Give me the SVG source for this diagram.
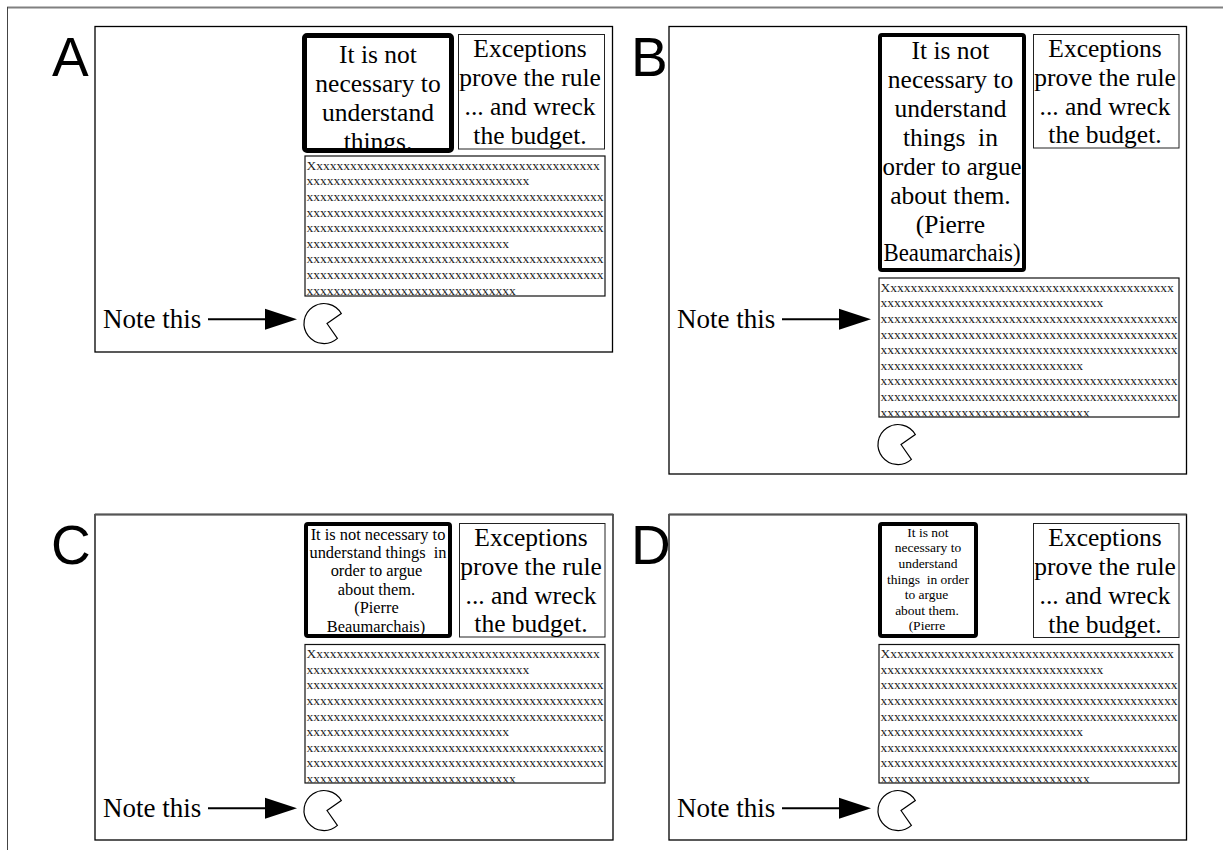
<svg xmlns="http://www.w3.org/2000/svg" width="1223" height="850" viewBox="0 0 1223 850">
<style>
.panel{fill:#fff;stroke:#000;stroke-width:1.3}
.ptop{stroke:#555;stroke-width:2.2}
.lbl{font-family:"Liberation Sans",Arial,sans-serif;font-size:55px;fill:#000}
.serif{font-family:"Liberation Serif","Times New Roman",serif;fill:#000}
.big{font-size:25.5px;text-anchor:middle}
.mid{font-size:16.4px;text-anchor:middle}
.small{font-size:13.5px;text-anchor:middle}
.thick{fill:none;stroke:#000;stroke-width:4}
.thick5{fill:none;stroke:#000;stroke-width:5}
.exc{fill:#fff;stroke:#222;stroke-width:1}
.tbox{fill:#fff;stroke:#111;stroke-width:1.2}
.xs{font-family:"Liberation Serif","Times New Roman",serif;font-size:13.5px;fill:#222}
.note{font-family:"Liberation Serif","Times New Roman",serif;font-size:27px;fill:#000}
.pac{fill:#fff;stroke:#000;stroke-width:1.2}
.arr{stroke:#000;stroke-width:2;fill:none;marker-end:url(#ah)}
</style>
<defs>
<marker id="ah" markerUnits="userSpaceOnUse" markerWidth="32" markerHeight="21" refX="0" refY="10.5" orient="auto" overflow="visible">
<path d="M0 0 L32 10.5 L0 21 Z" fill="#000"/>
</marker>
<clipPath id="cqA"><rect x="307" y="38" width="142" height="110"/></clipPath>
<clipPath id="cqB"><rect x="882" y="37" width="140" height="231"/></clipPath>
<clipPath id="cqC"><rect x="308" y="526" width="140" height="108"/></clipPath>
<clipPath id="cqD"><rect x="882" y="526" width="92" height="108"/></clipPath>
<clipPath id="ctA"><rect x="305.6" y="156.6" width="298.8" height="138.8"/></clipPath>
<clipPath id="ctB"><rect x="879.6" y="278.6" width="298.8" height="137.8"/></clipPath>
<clipPath id="ctC"><rect x="305.6" y="645.1" width="298.8" height="137.3"/></clipPath>
<clipPath id="ctD"><rect x="879.6" y="645.1" width="298.8" height="137.3"/></clipPath>
</defs>

<g id="page-frame">
<line x1="7" y1="7.5" x2="1223" y2="7.5" stroke="#808080" stroke-width="2"/>
<line x1="7.5" y1="7" x2="7.5" y2="850" stroke="#444" stroke-width="1"/>
</g>

<!-- Panel A -->
<g id="panelA">
<rect class="panel" x="95" y="26.5" width="517.5" height="325.5"/>
<text class="lbl" x="52" y="75.5">A</text>
</g>
<g id="quoteA">
<g clip-path="url(#cqA)" class="serif big">
<text x="378" y="62.5">It is not</text>
<text x="378" y="91.5">necessary to</text>
<text x="378" y="120.5">understand</text>
<text x="378" y="150">things.</text>
</g>
<rect class="thick5" x="304.5" y="35.5" width="147" height="115" rx="2.5"/>
</g>
<g id="exceptionsA">
<rect class="exc" x="458.5" y="34.5" width="146" height="114.5"/>
<g class="serif big">
<text x="530" y="56.5">Exceptions</text>
<text x="530" y="85.5">prove the rule</text>
<text x="530" y="114.5">... and wreck</text>
<text x="530" y="143.5">the budget.</text>
</g>
</g>
<g id="textboxA">
<rect class="tbox" x="305" y="156" width="300" height="140"/>
<g clip-path="url(#ctA)" class="xs">
<text x="306.5" y="169.7">Xxxxxxxxxxxxxxxxxxxxxxxxxxxxxxxxxxxxxxxxxxx</text>
<text x="306.5" y="185.3">xxxxxxxxxxxxxxxxxxxxxxxxxxxxxxxxx</text>
<text x="306.5" y="200.9">xxxxxxxxxxxxxxxxxxxxxxxxxxxxxxxxxxxxxxxxxxxx</text>
<text x="306.5" y="216.5">xxxxxxxxxxxxxxxxxxxxxxxxxxxxxxxxxxxxxxxxxxxx</text>
<text x="306.5" y="232.1">xxxxxxxxxxxxxxxxxxxxxxxxxxxxxxxxxxxxxxxxxxxx</text>
<text x="306.5" y="247.7">xxxxxxxxxxxxxxxxxxxxxxxxxxxxxx</text>
<text x="306.5" y="263.3">xxxxxxxxxxxxxxxxxxxxxxxxxxxxxxxxxxxxxxxxxxxx</text>
<text x="306.5" y="278.9">xxxxxxxxxxxxxxxxxxxxxxxxxxxxxxxxxxxxxxxxxxxx</text>
<text x="306.5" y="294.8">xxxxxxxxxxxxxxxxxxxxxxxxxxxxxxx</text>
</g>
</g>
<g id="noteA"><text class="note" x="103" y="328">Note this</text></g>
<g id="pacmanA"><path class="pac" d="M327 323.5 L341.3 313.5 A20 20 0 1 0 337.4 338.4 Z"/></g>

<!-- Panel B -->
<g id="panelB">
<rect class="panel" x="669" y="26.5" width="517.5" height="447.5"/>
<text class="lbl" x="631" y="75.5">B</text>
</g>
<g id="quoteB">
<g clip-path="url(#cqB)" class="serif big">
<text x="950.5" y="59">It is not</text>
<text x="950.5" y="88">necessary to</text>
<text x="950.5" y="117">understand</text>
<text x="950.5" y="146" xml:space="preserve">things  in</text>
<text x="952" y="175" textLength="139" lengthAdjust="spacingAndGlyphs">order to argue</text>
<text x="950.5" y="204">about them.</text>
<text x="950.5" y="233">(Pierre</text>
<text x="952" y="261" textLength="137" lengthAdjust="spacingAndGlyphs">Beaumarchais)</text>
</g>
<rect class="thick" x="880" y="35" width="144" height="235" rx="2"/>
</g>
<g id="exceptionsB">
<rect class="exc" x="1033.5" y="34.5" width="145.5" height="113.5"/>
<g class="serif big">
<text x="1105" y="56.5">Exceptions</text>
<text x="1105" y="85.5">prove the rule</text>
<text x="1105" y="114.5">... and wreck</text>
<text x="1105" y="143">the budget.</text>
</g>
</g>
<g id="textboxB">
<rect class="tbox" x="879" y="278" width="300" height="139"/>
<g clip-path="url(#ctB)" class="xs">
<text x="880.5" y="291.7">Xxxxxxxxxxxxxxxxxxxxxxxxxxxxxxxxxxxxxxxxxxx</text>
<text x="880.5" y="307.3">xxxxxxxxxxxxxxxxxxxxxxxxxxxxxxxxx</text>
<text x="880.5" y="322.9">xxxxxxxxxxxxxxxxxxxxxxxxxxxxxxxxxxxxxxxxxxxx</text>
<text x="880.5" y="338.5">xxxxxxxxxxxxxxxxxxxxxxxxxxxxxxxxxxxxxxxxxxxx</text>
<text x="880.5" y="354.1">xxxxxxxxxxxxxxxxxxxxxxxxxxxxxxxxxxxxxxxxxxxx</text>
<text x="880.5" y="369.7">xxxxxxxxxxxxxxxxxxxxxxxxxxxxxx</text>
<text x="880.5" y="385.3">xxxxxxxxxxxxxxxxxxxxxxxxxxxxxxxxxxxxxxxxxxxx</text>
<text x="880.5" y="400.9">xxxxxxxxxxxxxxxxxxxxxxxxxxxxxxxxxxxxxxxxxxxx</text>
<text x="880.5" y="416.7">xxxxxxxxxxxxxxxxxxxxxxxxxxxxxxx</text>
</g>
</g>
<g id="noteB"><text class="note" x="677" y="328">Note this</text></g>
<g id="pacmanB"><path class="pac" d="M901 444.5 L915.3 434.5 A20 20 0 1 0 911.4 459.4 Z"/></g>

<!-- Panel C -->
<g id="panelC">
<rect class="panel" x="95" y="514.5" width="518" height="325.5"/>
<line class="ptop" x1="95" y1="514.5" x2="613" y2="514.5"/>
<text class="lbl" x="51" y="564">C</text>
</g>
<g id="quoteC">
<g clip-path="url(#cqC)" class="serif mid">
<text x="378" y="539.5">It is not necessary to</text>
<text x="378" y="557.9" xml:space="preserve">understand things  in</text>
<text x="376.5" y="576.3">order to argue</text>
<text x="376.5" y="594.7">about them.</text>
<text x="376.5" y="613.1">(Pierre</text>
<text x="376" y="631.5">Beaumarchais)</text>
</g>
<rect class="thick" x="306" y="524" width="144" height="112" rx="2"/>
</g>
<g id="exceptionsC">
<rect class="exc" x="459.5" y="523.5" width="145.5" height="113.5"/>
<g class="serif big">
<text x="531" y="545.5">Exceptions</text>
<text x="531" y="574.5">prove the rule</text>
<text x="531" y="603.5">... and wreck</text>
<text x="531" y="632">the budget.</text>
</g>
</g>
<g id="textboxC">
<rect class="tbox" x="305" y="644.5" width="300" height="138.5"/>
<g clip-path="url(#ctC)" class="xs">
<text x="306.5" y="658.2">Xxxxxxxxxxxxxxxxxxxxxxxxxxxxxxxxxxxxxxxxxxx</text>
<text x="306.5" y="673.8">xxxxxxxxxxxxxxxxxxxxxxxxxxxxxxxxx</text>
<text x="306.5" y="689.4">xxxxxxxxxxxxxxxxxxxxxxxxxxxxxxxxxxxxxxxxxxxx</text>
<text x="306.5" y="705">xxxxxxxxxxxxxxxxxxxxxxxxxxxxxxxxxxxxxxxxxxxx</text>
<text x="306.5" y="720.6">xxxxxxxxxxxxxxxxxxxxxxxxxxxxxxxxxxxxxxxxxxxx</text>
<text x="306.5" y="736.2">xxxxxxxxxxxxxxxxxxxxxxxxxxxxxx</text>
<text x="306.5" y="751.8">xxxxxxxxxxxxxxxxxxxxxxxxxxxxxxxxxxxxxxxxxxxx</text>
<text x="306.5" y="767.4">xxxxxxxxxxxxxxxxxxxxxxxxxxxxxxxxxxxxxxxxxxxx</text>
<text x="306.5" y="783">xxxxxxxxxxxxxxxxxxxxxxxxxxxxxxx</text>
</g>
</g>
<g id="noteC"><text class="note" x="103" y="817">Note this</text></g>
<g id="pacmanC"><path class="pac" d="M327 810.5 L341.3 800.5 A20 20 0 1 0 337.4 825.4 Z"/></g>

<!-- Panel D -->
<g id="panelD">
<rect class="panel" x="669" y="514.5" width="517.5" height="325.5"/>
<line class="ptop" x1="669" y1="514.5" x2="1186.5" y2="514.5"/>
<text class="lbl" x="631" y="564">D</text>
</g>
<g id="quoteD">
<g clip-path="url(#cqD)" class="serif small">
<text x="928" y="536.7">It is not</text>
<text x="928" y="552.3">necessary to</text>
<text x="928" y="567.9">understand</text>
<text x="928" y="583.5" xml:space="preserve">things  in order</text>
<text x="926.5" y="599.1">to argue</text>
<text x="927" y="614.7">about them.</text>
<text x="927" y="630.3">(Pierre</text>
</g>
<rect class="thick" x="880" y="524" width="96" height="112" rx="2"/>
</g>
<g id="exceptionsD">
<rect class="exc" x="1033.5" y="523.5" width="145.5" height="114"/>
<g class="serif big">
<text x="1105" y="545.5">Exceptions</text>
<text x="1105" y="574.5">prove the rule</text>
<text x="1105" y="603.5">... and wreck</text>
<text x="1105" y="632.5">the budget.</text>
</g>
</g>
<g id="textboxD">
<rect class="tbox" x="879" y="644.5" width="300" height="138.5"/>
<g clip-path="url(#ctD)" class="xs">
<text x="880.5" y="658.2">Xxxxxxxxxxxxxxxxxxxxxxxxxxxxxxxxxxxxxxxxxxx</text>
<text x="880.5" y="673.8">xxxxxxxxxxxxxxxxxxxxxxxxxxxxxxxxx</text>
<text x="880.5" y="689.4">xxxxxxxxxxxxxxxxxxxxxxxxxxxxxxxxxxxxxxxxxxxx</text>
<text x="880.5" y="705">xxxxxxxxxxxxxxxxxxxxxxxxxxxxxxxxxxxxxxxxxxxx</text>
<text x="880.5" y="720.6">xxxxxxxxxxxxxxxxxxxxxxxxxxxxxxxxxxxxxxxxxxxx</text>
<text x="880.5" y="736.2">xxxxxxxxxxxxxxxxxxxxxxxxxxxxxx</text>
<text x="880.5" y="751.8">xxxxxxxxxxxxxxxxxxxxxxxxxxxxxxxxxxxxxxxxxxxx</text>
<text x="880.5" y="767.4">xxxxxxxxxxxxxxxxxxxxxxxxxxxxxxxxxxxxxxxxxxxx</text>
<text x="880.5" y="783">xxxxxxxxxxxxxxxxxxxxxxxxxxxxxxx</text>
</g>
</g>
<g id="noteD"><text class="note" x="677" y="817">Note this</text></g>
<g id="pacmanD"><path class="pac" d="M901 810.5 L915.3 800.5 A20 20 0 1 0 911.4 825.4 Z"/></g>

<g id="connectors">
<line class="arr" x1="208" y1="319.3" x2="265" y2="319.3"/>
<line class="arr" x1="782" y1="319.3" x2="839" y2="319.3"/>
<line class="arr" x1="208" y1="808.3" x2="265" y2="808.3"/>
<line class="arr" x1="782" y1="808.3" x2="839" y2="808.3"/>
</g>
</svg>
